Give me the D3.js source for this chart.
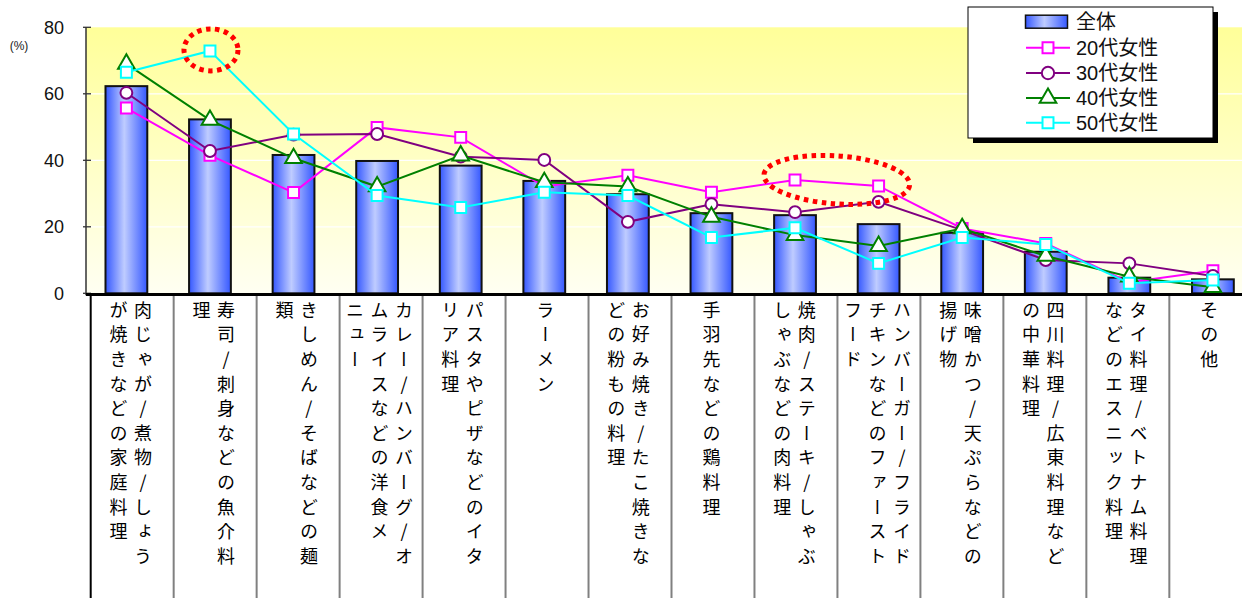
<!DOCTYPE html>
<html>
<head>
<meta charset="utf-8">
<script src="https://cdn.jsdelivr.net/npm/d3@7"></script>
<style>
  html, body { margin: 0; padding: 0; background: #fff; }
  svg { display: block; }
</style>
</head>
<body>
<svg id="chart" width="1242" height="598"></svg>
<script>
// Category label columns (vertical text, right column first)
const labelColumns = [
  ["肉じゃが/煮物/しょう", "が焼きなどの家庭料理"],
  ["寿司/刺身などの魚介料", "理"],
  ["きしめん/そばなどの麺", "類"],
  ["カレー/ハンバーグ/オ", "ムライスなどの洋食メ", "ニュー"],
  ["パスタやピザなどのイタ", "リア料理"],
  ["ラーメン"],
  ["お好み焼き/たこ焼きな", "どの粉もの料理"],
  ["手羽先などの鶏料理"],
  ["焼肉/ステーキ/しゃぶ", "しゃぶなどの肉料理"],
  ["ハンバーガー/フライド", "チキンなどのファースト", "フード"],
  ["味噌かつ/天ぷらなどの", "揚げ物"],
  ["四川料理/広東料理など", "の中華料理"],
  ["タイ料理/ベトナム料理", "などのエスニック料理"],
  ["その他"]
];
const categories = labelColumns.map(c => c.join(""));

// Share of respondents (%)
const totalValues = [62.3, 52.3, 41.6, 39.8, 38.4, 33.8, 29.8, 24.1, 23.5, 20.8, 18.2, 12.5, 4.7, 4.2];
const women20s = [55.7, 41.5, 30.3, 49.9, 46.9, 32.1, 35.5, 30.4, 34.1, 32.3, 19.5, 15.0, 3.3, 6.8];
const women30s = [60.3, 42.8, 47.7, 47.9, 41.1, 40.1, 21.5, 26.8, 24.4, 27.5, 19.0, 10.0, 9.0, 5.2];
const women40s = [69.0, 52.1, 40.6, 32.1, 41.4, 33.4, 32.1, 23.0, 17.5, 14.2, 19.5, 11.2, 5.0, 1.8];
const women50s = [66.5, 72.9, 47.9, 29.4, 25.8, 30.4, 29.4, 16.8, 19.7, 9.0, 16.8, 14.7, 3.0, 4.0];

const seriesNames = ["全体", "20代女性", "30代女性", "40代女性", "50代女性"];
const yTicks = [0, 20, 40, 60, 80];

const lineSeries = [
  { name: seriesNames[1], values: women20s, color: "#FF00FF", symbol: d3.symbolSquare },
  { name: seriesNames[2], values: women30s, color: "#800080", symbol: d3.symbolCircle },
  { name: seriesNames[3], values: women40s, color: "#008000", symbol: d3.symbolTriangle },
  { name: seriesNames[4], values: women50s, color: "#00FFFF", symbol: d3.symbolSquare }
];

const svg = d3.select("#chart");
const jpFont = "'Liberation Sans', Arial, 'Noto Sans CJK JP', sans-serif";

const plotLeft = 86, plotRight = 1256, plotTop = 27.3, plotBottom = 293.3;

const y = d3.scaleLinear().domain([0, 80]).range([plotBottom, plotTop]);
const x = d3.scalePoint().domain(categories).range([84.6, 1254.7]).padding(0.5);
const xLabel = d3.scaleBand().domain(categories).range([90.7, 1252.3]);
const barWidth = x.step() * 0.5;

// Gradients
const defs = svg.append("defs");
const bg = defs.append("linearGradient").attr("id", "plotBg")
  .attr("x1", 0).attr("y1", 0).attr("x2", 0).attr("y2", 1);
bg.append("stop").attr("offset", "0%").attr("stop-color", "#FFFF99");
bg.append("stop").attr("offset", "100%").attr("stop-color", "#FFFFF2");

const barGrad = defs.append("linearGradient").attr("id", "barFill")
  .attr("x1", 0).attr("y1", 0).attr("x2", 1).attr("y2", 0);
barGrad.append("stop").attr("offset", "0%").attr("stop-color", "#3558FF");
barGrad.append("stop").attr("offset", "45%").attr("stop-color", "#BFCCFF");
barGrad.append("stop").attr("offset", "100%").attr("stop-color", "#3558FF");

// Plot background
svg.append("rect")
  .attr("x", plotLeft).attr("y", plotTop)
  .attr("width", plotRight - plotLeft).attr("height", plotBottom - plotTop)
  .attr("fill", "url(#plotBg)");

// Horizontal gridlines
svg.append("g").selectAll("line")
  .data(yTicks.filter(t => t > 0 && t < 80))
  .join("line")
  .attr("x1", plotLeft).attr("x2", plotRight)
  .attr("y1", d => y(d)).attr("y2", d => y(d))
  .attr("stroke", "#FFFFFF").attr("stroke-width", 1.2);

// Y axis
const yAxis = d3.axisLeft(y).tickValues(yTicks).tickSize(0).tickPadding(22);
const yAxisG = svg.append("g").attr("transform", `translate(${plotLeft},0)`).call(yAxis);
yAxisG.select(".domain").remove();
yAxisG.selectAll("text")
  .attr("font-family", "'Liberation Sans', Arial, sans-serif")
  .attr("font-size", 18).attr("fill", "#111");
svg.append("line")
  .attr("x1", plotLeft).attr("x2", plotLeft)
  .attr("y1", plotTop).attr("y2", plotBottom + 2)
  .attr("stroke", "#333").attr("stroke-width", 1.5);
svg.append("g").selectAll("line")
  .data(yTicks)
  .join("line")
  .attr("x1", plotLeft - 3).attr("x2", plotLeft + 5)
  .attr("y1", d => y(d)).attr("y2", d => y(d))
  .attr("stroke", "#333").attr("stroke-width", 1.3);

svg.append("text")
  .attr("x", 19).attr("y", 50)
  .attr("text-anchor", "middle")
  .attr("font-family", "'Liberation Sans', Arial, sans-serif")
  .attr("font-size", 12).attr("fill", "#222")
  .text("(%)");

// Bars (overall)
svg.append("g").selectAll("rect")
  .data(categories.map((c, i) => ({ c, v: totalValues[i] })))
  .join("rect")
  .attr("x", d => x(d.c) - barWidth / 2)
  .attr("y", d => y(d.v))
  .attr("width", barWidth)
  .attr("height", d => y(0) - y(d.v))
  .attr("fill", "url(#barFill)")
  .attr("stroke", "#111").attr("stroke-width", 2);

// Category axis line and label table
svg.append("line")
  .attr("x1", plotLeft).attr("x2", plotRight)
  .attr("y1", 294.6).attr("y2", 294.6)
  .attr("stroke", "#000").attr("stroke-width", 3);

svg.append("g").selectAll("line")
  .data(categories.slice(1).concat(["__end"]))
  .join("line")
  .attr("x1", (d, i) => xLabel.range()[0] + (i + 1) * xLabel.step())
  .attr("x2", (d, i) => xLabel.range()[0] + (i + 1) * xLabel.step())
  .attr("y1", 296).attr("y2", 598)
  .attr("stroke", "#808080").attr("stroke-width", 2);
svg.append("line")
  .attr("x1", xLabel.range()[0]).attr("x2", xLabel.range()[0])
  .attr("y1", 294).attr("y2", 598)
  .attr("stroke", "#000").attr("stroke-width", 2);

const colPitch = 24.5;
const labelG = svg.append("g");
labelColumns.forEach((cols, ci) => {
  const cx = xLabel(categories[ci]) + xLabel.bandwidth() / 2 - 1.5;
  const n = cols.length;
  cols.forEach((txt, k) => {
    labelG.append("text")
      .attr("x", cx + ((n - 1) / 2 - k) * colPitch)
      .attr("y", 301)
      .attr("font-family", "'Noto Sans CJK JP', sans-serif")
      .attr("font-size", 18)
      .attr("fill", "#000")
      .style("writing-mode", "vertical-rl")
      .style("text-orientation", "upright")
      .style("letter-spacing", "6.6px")
      .text(txt);
  });
});

// Line series with markers
const lineGen = d3.line().x((d, i) => x(categories[i])).y(d => y(d));
lineSeries.forEach(s => {
  const g = svg.append("g");
  g.append("path")
    .attr("d", lineGen(s.values))
    .attr("fill", "none").attr("stroke", s.color).attr("stroke-width", 2);
  const size = s.symbol === d3.symbolTriangle ? 120 : (s.symbol === d3.symbolCircle ? 110 : 120);
  g.selectAll("path.m")
    .data(s.values)
    .join("path")
    .attr("class", "m")
    .attr("transform", (d, i) => `translate(${x(categories[i])},${y(d)})`)
    .attr("d", d3.symbol().type(s.symbol).size(size))
    .attr("fill", "#FFFFFF").attr("stroke", s.color).attr("stroke-width", 2);
});

// Highlight rings
const ring1x = x(categories[1]), ring1y = y(women50s[1]);
svg.append("ellipse")
  .attr("cx", ring1x + 1).attr("cy", ring1y - 1)
  .attr("rx", 27).attr("ry", 21)
  .attr("fill", "none").attr("stroke", "#FF0000")
  .attr("stroke-width", 5).attr("stroke-dasharray", "4.5 4.5");

const p1 = [x(categories[8]), y(women20s[8])], p2 = [x(categories[9]), y(women20s[9])];
const ang = Math.atan2(p2[1] - p1[1], p2[0] - p1[0]) * 180 / Math.PI;
svg.append("ellipse")
  .attr("transform", `translate(${(p1[0] + p2[0]) / 2},${(p1[1] + p2[1]) / 2 - 3}) rotate(${ang})`)
  .attr("rx", 73).attr("ry", 24)
  .attr("fill", "none").attr("stroke", "#FF0000")
  .attr("stroke-width", 5).attr("stroke-dasharray", "4.5 4.5");

// Legend
const lg = svg.append("g").attr("transform", "translate(968,7)");
lg.append("rect").attr("x", 5).attr("y", 5).attr("width", 245).attr("height", 131).attr("fill", "#000");
lg.append("rect").attr("x", 0).attr("y", 0).attr("width", 245).attr("height", 131)
  .attr("fill", "#FFFFFF").attr("stroke", "#000").attr("stroke-width", 1);

const rowY = [14.7, 40.7, 66, 91, 115.7];
lg.append("rect")
  .attr("x", 57.5).attr("y", rowY[0] - 6.5).attr("width", 42).attr("height", 13)
  .attr("fill", "url(#barFill)").attr("stroke", "#111").attr("stroke-width", 1.5);
lineSeries.forEach((s, i) => {
  const ry = rowY[i + 1];
  lg.append("line").attr("x1", 58).attr("x2", 102).attr("y1", ry).attr("y2", ry)
    .attr("stroke", s.color).attr("stroke-width", 2);
  lg.append("path")
    .attr("transform", `translate(80,${ry})`)
    .attr("d", d3.symbol().type(s.symbol).size(120))
    .attr("fill", "#FFFFFF").attr("stroke", s.color).attr("stroke-width", 2);
});
lg.selectAll("text.lab")
  .data(seriesNames)
  .join("text")
  .attr("class", "lab")
  .attr("x", 108)
  .attr("y", (d, i) => rowY[i])
  .attr("dy", "0.36em")
  .attr("font-family", jpFont)
  .attr("font-size", 20)
  .attr("fill", "#111")
  .text(d => d);
</script>
</body>
</html>
